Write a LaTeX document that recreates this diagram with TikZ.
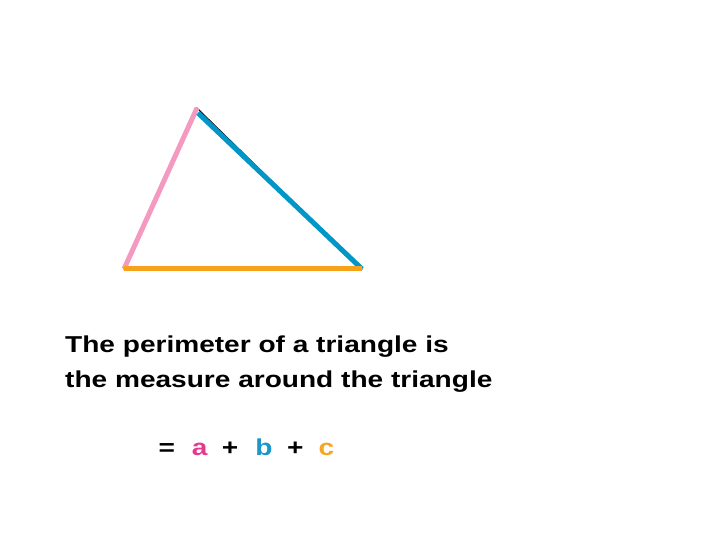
\documentclass[tikz,border=0pt]{standalone}
\usepackage{fontspec}
\setmainfont{Liberation Sans}[FakeStretch=1.22]
\usepackage{xcolor}
\usetikzlibrary{positioning,calc}
\definecolor{sidea}{HTML}{F49AC1}
\definecolor{sideb}{HTML}{0096C8}
\definecolor{sidec}{HTML}{F7A21B}
\definecolor{lettera}{HTML}{E8388E}
\definecolor{letterb}{HTML}{1A96C8}
\definecolor{letterc}{HTML}{F5A623}
\begin{document}
\begin{tikzpicture}[x=1pt,y=1pt,
	side/.style={line width=5pt},
	caption/.style={anchor=base west,inner sep=0pt,font=\fontsize{23}{35.5}\selectfont\bfseries,align=left},
	term/.style={anchor=base,inner sep=0pt,font=\fontsize{23}{28}\selectfont\bfseries}]
	%% the page is 720 x 540, like the picture
	\useasboundingbox (0,0) rectangle (720,540);
	%% corners of the triangle
	\coordinate (top) at (197,432);
	\coordinate (left) at (124,271);
	\coordinate (right) at (362,271);
	%% thin black triangle under the coloured sides
	\draw[black, line width=1pt] (top) -- (left) -- (right) -- cycle;
	\draw[side, sidea] (left) -- (top);
	\draw[side, sideb] ($(top)+(1,-5)$) -- (right);
	\draw[side, sidec] (left) -- (right);
	%% text under the triangle
	\node[caption] (line1) at (65,152) {The perimeter of a triangle is\\the measure around the triangle};
	%% the sum, one term at a time
	\node[term] (eq) at (166.7,84) {=};
	\node[term, lettera] (a) at (199.7,84) {a};
	\node[term] (plus1) at (230,84) {+};
	\node[term, letterb] (b) at (264,84) {b};
	\node[term] (plus2) at (295.3,84) {+};
	\node[term, letterc] (c) at (326.3,84) {c};
\end{tikzpicture}
\end{document}
